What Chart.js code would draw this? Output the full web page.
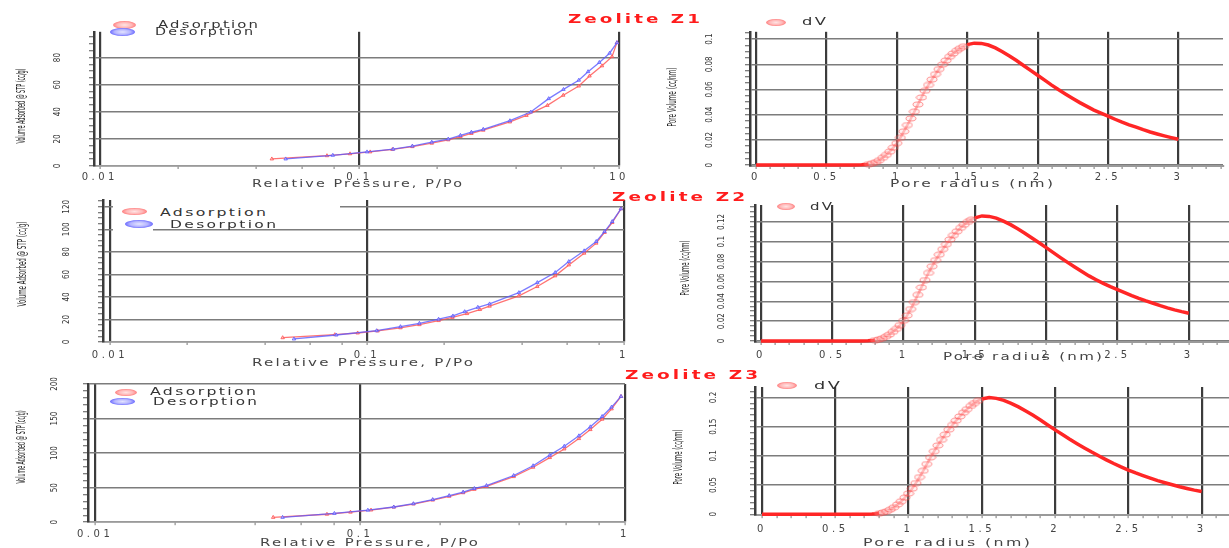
<!DOCTYPE html>
<html>
<head>
<meta charset="utf-8">
<script src="https://cdn.jsdelivr.net/npm/chart.js@4.4.1/dist/chart.umd.min.js"></script>
<style>
  body { margin: 0; width: 1229px; height: 548px; overflow: hidden; position: relative; background: #fff; font-family: 'DejaVu Sans', sans-serif; }
  canvas { position: absolute; left: 0; top: 0; }
  .txt { position: absolute; left: 0; top: 0; white-space: nowrap; line-height: 1; }
  .blank { position: absolute; background: #fff; }
</style>
</head>
<body>
<canvas id="iso1" width="1229" height="548"></canvas>
<canvas id="iso2" width="1229" height="548"></canvas>
<canvas id="iso3" width="1229" height="548"></canvas>
<canvas id="psd1" width="1229" height="548"></canvas>
<canvas id="psd2" width="1229" height="548"></canvas>
<canvas id="psd3" width="1229" height="548"></canvas>
<script>
// ---- isotherm data (relative pressure, volume adsorbed cc/g) ----
const z1AdsP = [0.046, 0.075, 0.092, 0.11, 0.134, 0.16, 0.19, 0.22, 0.245, 0.27, 0.30, 0.38, 0.44, 0.53, 0.61, 0.70, 0.77, 0.86, 0.94, 0.982];
const z1AdsV = [5.2, 7.6, 9.0, 10.4, 12.2, 14.3, 16.8, 19.3, 21.7, 24.0, 26.4, 32.5, 37.3, 44.7, 52.2, 59.0, 66.4, 73.9, 80.7, 91.0];
const z1DesP = [0.982, 0.92, 0.84, 0.76, 0.70, 0.611, 0.536, 0.457, 0.38, 0.30, 0.27, 0.245, 0.22, 0.19, 0.16, 0.135, 0.107, 0.079, 0.052];
const z1DesV = [91.0, 83.2, 76.4, 69.6, 63.3, 56.5, 49.7, 39.8, 33.4, 27.1, 24.9, 22.6, 19.9, 17.6, 14.7, 12.4, 10.4, 7.9, 5.2];

const z2AdsP = [0.047, 0.075, 0.092, 0.11, 0.135, 0.16, 0.19, 0.215, 0.245, 0.275, 0.30, 0.39, 0.46, 0.54, 0.61, 0.70, 0.78, 0.84, 0.90, 0.973];
const z2AdsV = [3.8, 6.5, 8.0, 9.8, 12.6, 15.4, 19.0, 21.8, 25.2, 28.8, 31.8, 40.9, 49.2, 58.7, 68.4, 78.8, 87.7, 97.2, 106.0, 118.2];
const z2DesP = [0.973, 0.90, 0.84, 0.78, 0.70, 0.61, 0.54, 0.46, 0.39, 0.30, 0.27, 0.24, 0.216, 0.19, 0.16, 0.135, 0.109, 0.076, 0.052];
const z2DesV = [118.2, 106.9, 98.0, 89.2, 80.9, 71.4, 61.6, 52.7, 43.8, 33.8, 30.8, 26.9, 23.1, 20.2, 16.6, 13.6, 10.0, 6.2, 2.7];

const z3AdsP = [0.047, 0.075, 0.092, 0.11, 0.134, 0.159, 0.188, 0.217, 0.245, 0.27, 0.30, 0.38, 0.45, 0.52, 0.59, 0.67, 0.74, 0.82, 0.89, 0.966];
const z3AdsV = [7.0, 11.5, 14.5, 17.6, 21.8, 26.3, 32.0, 37.5, 42.6, 47.5, 51.8, 66.0, 79.5, 93.5, 106.0, 121.0, 134.0, 149.0, 164.0, 182.0];
const z3DesP = [0.966, 0.89, 0.82, 0.74, 0.67, 0.59, 0.52, 0.45, 0.38, 0.30, 0.27, 0.245, 0.217, 0.188, 0.159, 0.134, 0.107, 0.08, 0.051];
const z3DesV = [182.0, 166.6, 153.0, 138.0, 125.0, 110.0, 97.0, 81.7, 67.6, 53.0, 48.8, 43.6, 38.5, 32.8, 26.8, 22.0, 17.4, 12.7, 7.0];

// log axis: tick marks and the labelled decades
const isoTicks = [0.01, 0.02, 0.04, 0.06, 0.08, 0.1, 0.2, 0.4, 0.6, 0.8, 1];
const isoDecades = [0.01, 0.1, 1];
const isoDecadeLabelsZ1 = ['0.01', '0.1', '10'];
const isoDecadeLabels = ['0.01', '0.1', '1'];

// ---- pore size distribution (pore radius nm, dV cc/nm) ----
const poreR = [0, 0.05, 0.1, 0.15, 0.2, 0.25, 0.3, 0.35, 0.4, 0.45, 0.5, 0.55, 0.6, 0.65, 0.7, 0.75,
  0.775, 0.8, 0.825, 0.85, 0.875, 0.9, 0.925, 0.95, 0.975, 1.0, 1.025, 1.05, 1.075, 1.1, 1.125,
  1.15, 1.175, 1.2, 1.225, 1.25, 1.275, 1.3, 1.325, 1.35, 1.375, 1.4, 1.425, 1.45, 1.475, 1.5,
  1.55, 1.6, 1.65, 1.7, 1.75, 1.8, 1.85, 1.9, 1.95, 2.0, 2.05, 2.1, 2.15, 2.2, 2.25,
  2.3, 2.35, 2.4, 2.45, 2.5, 2.55, 2.6, 2.65, 2.7, 2.75, 2.8, 2.85, 2.9, 2.95, 3.0];
const dvZ1 = [0, 0, 0, 0, 0, 0, 0, 0, 0, 0, 0, 0, 0, 0, 0, 0.0002,
  0.0004, 0.0008, 0.0015, 0.0024, 0.0039, 0.0058, 0.0081, 0.0107, 0.0139, 0.0175, 0.0217, 0.0268, 0.0318, 0.0370, 0.0425,
  0.0482, 0.0537, 0.0590, 0.0636, 0.0680, 0.0722, 0.0762, 0.0798, 0.0831, 0.0860, 0.0886, 0.0908, 0.0927, 0.0943, 0.0956,
  0.0968, 0.0966, 0.0953, 0.0930, 0.0900, 0.0866, 0.0830, 0.0791, 0.0752, 0.0713, 0.0674, 0.0635, 0.0598, 0.0563, 0.0529,
  0.0496, 0.0466, 0.0437, 0.0412, 0.0388, 0.0364, 0.0341, 0.0320, 0.0301, 0.0281, 0.0263, 0.0247, 0.0232, 0.0218, 0.0205];
const dvZ2 = [0, 0, 0, 0, 0, 0, 0, 0, 0, 0, 0, 0, 0, 0, 0, 0.0002,
  0.0004, 0.0009, 0.0016, 0.0027, 0.0043, 0.0065, 0.0092, 0.0122, 0.0160, 0.0205, 0.0258, 0.0322, 0.0392, 0.0465, 0.0540,
  0.0614, 0.0686, 0.0753, 0.0815, 0.0870, 0.0925, 0.0975, 0.1022, 0.1066, 0.1105, 0.1140, 0.1172, 0.1200, 0.1222, 0.1240,
  0.1260, 0.1255, 0.1238, 0.1208, 0.1172, 0.1130, 0.1086, 0.1038, 0.0990, 0.0940, 0.0890, 0.0840, 0.0792, 0.0745, 0.0700,
  0.0656, 0.0617, 0.0580, 0.0548, 0.0518, 0.0488, 0.0458, 0.0430, 0.0404, 0.0380, 0.0356, 0.0334, 0.0314, 0.0296, 0.0280];
const dvZ3 = [0, 0, 0, 0, 0, 0, 0, 0, 0, 0, 0, 0, 0, 0, 0, 0.0004,
  0.0008, 0.0016, 0.0030, 0.0050, 0.0080, 0.0120, 0.0168, 0.0222, 0.0285, 0.0355, 0.0440, 0.0535, 0.0637, 0.0745, 0.0860,
  0.0975, 0.1080, 0.1180, 0.1275, 0.1365, 0.1450, 0.1530, 0.1605, 0.1675, 0.1740, 0.1800, 0.1855, 0.1905, 0.1945, 0.1975,
  0.2000, 0.1985, 0.1950, 0.1900, 0.1840, 0.1770, 0.1695, 0.1615, 0.1530, 0.1445, 0.1365, 0.1285, 0.1210, 0.1137, 0.1065,
  0.0997, 0.0932, 0.0870, 0.0812, 0.0758, 0.0708, 0.0662, 0.0618, 0.0577, 0.0540, 0.0505, 0.0472, 0.0442, 0.0414, 0.0390];

const W = 1229, H = 548;
const Y_AXIS_W = 60, X_AXIS_H = 20;
const NARROW = "'Liberation Sans Narrow', 'DejaVu Sans Condensed', 'Liberation Sans', sans-serif";
const CLEAR = 'rgba(0,0,0,0)';

Chart.defaults.font.family = "'DejaVu Sans', sans-serif";
Chart.defaults.animation = false;

const isMult = (v, m) => Math.abs(v / m - Math.round(v / m)) < 1e-6;
const pts = (xs, ys) => xs.map((x, i) => ({ x, y: ys[i] }));

// x tick labels in the original are spaced out, so wrap the x scale's label drawing
const spacedTicks = {
  id: 'spacedTicks',
  beforeDraw(chart) {
    const sc = chart.scales.x;
    if (sc._spaced) return;
    const orig = sc.drawLabels;
    sc.drawLabels = function (area) {
      this.ctx.save();
      this.ctx.letterSpacing = '3.5px';
      orig.call(this, area);
      this.ctx.restore();
    };
    sc._spaced = true;
  }
};

// flat ring marker, the original's markers are stretched sideways
function ellipseMarker(w, h) {
  const cv = document.createElement('canvas');
  cv.width = w + 2; cv.height = h + 2;
  const g = cv.getContext('2d');
  g.beginPath();
  g.ellipse(cv.width / 2, cv.height / 2, w / 2, h / 2, 0, 0, Math.PI * 2);
  g.fillStyle = 'rgba(255,200,200,0.25)';
  g.fill();
  g.strokeStyle = 'rgba(255,60,60,0.55)';
  g.lineWidth = 1;
  g.stroke();
  return cv;
}
const ringMarker = ellipseMarker(10, 5);

function yScale(c) {
  return {
    min: c.yMin, max: c.yMax,
    afterFit: s => { s.width = Y_AXIS_W; },
    ticks: {
      stepSize: c.yStep, autoSkip: false, includeBounds: false,
      minRotation: 90, maxRotation: 90, crossAlign: 'center', padding: c.yPad,
      font: { size: 8, family: NARROW }, color: '#333',
      callback: v => isMult(v, c.yMajor) ? String(Math.round(v * 1000) / 1000) : ''
    },
    grid: {
      color: ctx => ctx.tick && isMult(ctx.tick.value, c.yMajor) ? '#7c7c7c' : CLEAR,
      lineWidth: 1.5, tickLength: 5, tickColor: '#555', tickWidth: 1
    },
    border: { color: '#3c3c3c', width: 2.5 }
  };
}

function baseOptions(c, xScale) {
  return {
    responsive: false, devicePixelRatio: 1, events: [],
    layout: {
      autoPadding: false,
      padding: { left: c.area.left - Y_AXIS_W, top: c.area.top, right: W - c.area.right, bottom: H - c.area.bottom - X_AXIS_H }
    },
    plugins: { legend: { display: false }, tooltip: { enabled: false } },
    scales: { x: xScale, y: yScale(c) }
  };
}

function makeIso(id, c) {
  const xScale = {
    type: 'logarithmic', min: c.xMin, max: 1,
    afterFit: s => { s.height = X_AXIS_H; },
    afterBuildTicks: s => { s.ticks = isoTicks.map(v => ({ value: v })); },
    ticks: {
      autoSkip: false, maxRotation: 0, padding: c.xPad, color: '#444', font: { size: 10 },
      callback: v => { const i = isoDecades.indexOf(v); return i < 0 ? '' : c.decadeLabels[i]; }
    },
    grid: {
      color: ctx => ctx.tick && isoDecades.includes(ctx.tick.value) ? '#3c3c3c' : CLEAR,
      lineWidth: 2.2, tickLength: 3, tickColor: '#777', tickWidth: 1
    },
    border: { color: '#9a9a9a', width: 1.5 }
  };
  return new Chart(document.getElementById(id), {
    type: 'line',
    data: {
      datasets: [
        {
          label: 'Adsorption', data: pts(c.adsP, c.adsV), order: 1,
          borderColor: 'rgba(255,80,80,0.8)', backgroundColor: 'rgba(255,190,190,0.6)',
          borderWidth: 1.3, pointStyle: 'triangle', pointRadius: 2, pointBorderWidth: 1
        },
        {
          label: 'Desorption', data: pts(c.desP, c.desV), order: 0,
          borderColor: 'rgba(90,90,255,0.8)', backgroundColor: 'rgba(190,190,255,0.6)',
          borderWidth: 1.3, pointStyle: 'triangle', pointRadius: 2, pointBorderWidth: 1
        }
      ]
    },
    options: baseOptions(c, xScale),
    plugins: [spacedTicks]
  });
}

// the rising flank of the distribution shows as loose pink rings, the rest as a solid band
const rising = x => x > 0.78 && x < 1.5;

function makePsd(id, c) {
  const xScale = {
    type: 'linear', min: c.xMin, max: c.xMax,
    afterFit: s => { s.height = X_AXIS_H; },
    ticks: {
      stepSize: 0.1, autoSkip: false, includeBounds: false, maxRotation: 0,
      padding: c.xPad, color: '#444', font: { size: 10 },
      callback: v => isMult(v, 0.5) ? String(v) : ''
    },
    grid: {
      color: ctx => ctx.tick && isMult(ctx.tick.value, 0.5) ? '#3c3c3c' : CLEAR,
      lineWidth: 2.2, tickLength: 3, tickColor: '#777', tickWidth: 1
    },
    border: { color: '#9a9a9a', width: 2 }
  };
  return new Chart(document.getElementById(id), {
    type: 'line',
    data: {
      datasets: [{
        label: 'dV', data: pts(poreR, c.dv), clip: 4,
        borderColor: '#ff2626', borderWidth: 3.5,
        segment: {
          borderColor: s => rising(s.p0.parsed.x) ? 'rgba(255,70,70,0.4)' : undefined,
          borderWidth: s => rising(s.p0.parsed.x) ? 2.5 : undefined
        },
        pointStyle: ringMarker,
        pointRadius: ctx => rising(ctx.raw.x) ? 5 : 0
      }]
    },
    options: baseOptions(c, xScale),
    plugins: [spacedTicks]
  });
}

// ---- html text helpers ----
function placeText(str, o) {
  const el = document.createElement('div');
  el.className = 'txt';
  el.textContent = str;
  const ls = o.ls || 0;
  Object.assign(el.style, {
    fontSize: o.size + 'px', fontWeight: o.bold ? 'bold' : 'normal', letterSpacing: ls + 'px',
    color: o.color || '#333', fontFamily: o.family || "'DejaVu Sans', sans-serif"
  });
  document.body.appendChild(el);
  const r = el.getBoundingClientRect();
  if (o.rotate) {
    el.style.left = (o.cx - r.width / 2) + 'px';
    el.style.top = (o.cy - r.height / 2) + 'px';
    el.style.transform = `rotate(-90deg) scaleX(${(o.len / r.width).toFixed(3)})`;
  } else {
    el.style.transformOrigin = '0 50%';
    el.style.transform = `scaleX(${(o.len / (r.width - ls)).toFixed(3)})`;
    el.style.left = o.x + 'px';
    el.style.top = (o.cy - r.height / 2) + 'px';
  }
  return el;
}

function placeMarker(cx, cy, w, h, fill) {
  const el = document.createElement('div');
  Object.assign(el.style, {
    position: 'absolute', left: (cx - w / 2) + 'px', top: (cy - h / 2) + 'px',
    width: w + 'px', height: h + 'px', borderRadius: '50%', background: fill
  });
  document.body.appendChild(el);
}

const pinkFill = 'radial-gradient(ellipse at center, #ffe4e4 0%, #ffb8b8 45%, #ff6a6a 80%, rgba(255,100,100,0.3) 100%)';
const legendFill = {
  Adsorption: pinkFill,
  Desorption: 'radial-gradient(ellipse at center, #e4e4ff 0%, #b4b4ff 45%, #5252ff 80%, rgba(80,80,255,0.3) 100%)',
  dV: pinkFill
};

function addLegend(chart, rows) {
  chart.data.datasets.forEach((ds, i) => {
    const r = rows[i];
    placeMarker(r.mx, r.my, r.mw, r.mh, legendFill[ds.label]);
    placeText(ds.label, { x: r.tx, cy: r.ty, len: r.tw, size: 10, ls: 1.5, color: '#333' });
  });
}

function blank(x, y, w, h) {
  const el = document.createElement('div');
  el.className = 'blank';
  Object.assign(el.style, { left: x + 'px', top: y + 'px', width: w + 'px', height: h + 'px' });
  document.body.appendChild(el);
}

// ---- build the six panels ----
const iso1 = makeIso('iso1', {
  adsP: z1AdsP, adsV: z1AdsV, desP: z1DesP, desV: z1DesV, decadeLabels: isoDecadeLabelsZ1,
  area: { left: 94, right: 619, top: 20, bottom: 166 }, xMin: 0.0095,
  yMin: 0, yMax: 99, yStep: 5, yMajor: 20, yPad: 27, xPad: 2
});
const iso2 = makeIso('iso2', {
  adsP: z2AdsP, adsV: z2AdsV, desP: z2DesP, desV: z2DesV, decadeLabels: isoDecadeLabels,
  area: { left: 103, right: 624, top: 200, bottom: 342 }, xMin: 0.0094,
  yMin: 0, yMax: 126, yStep: 5, yMajor: 20, yPad: 24, xPad: 4
});
const iso3 = makeIso('iso3', {
  adsP: z3AdsP, adsV: z3AdsV, desP: z3DesP, desV: z3DesV, decadeLabels: isoDecadeLabels,
  area: { left: 88, right: 625, top: 384, bottom: 525 }, xMin: 0.0094,
  yMin: 0, yMax: 200, yStep: 10, yMajor: 50, yPad: 21, xPad: 3
});
const psd1 = makePsd('psd1', {
  dv: dvZ1, area: { left: 750, right: 1223, top: 20, bottom: 166 }, xMin: -0.043, xMax: 3.317,
  yMin: -0.0007, yMax: 0.1058, yStep: 0.005, yMajor: 0.02, yPad: 27, xPad: 2
});
const psd2 = makePsd('psd2', {
  dv: dvZ2, area: { left: 755, right: 1229, top: 205, bottom: 342 }, xMin: -0.042, xMax: 3.282,
  yMin: -0.001, yMax: 0.137, yStep: 0.005, yMajor: 0.02, yPad: 20, xPad: 4
});
const psd3 = makePsd('psd3', {
  dv: dvZ3, area: { left: 755, right: 1229, top: 387, bottom: 522 }, xMin: -0.048, xMax: 3.187,
  yMin: -0.0016, yMax: 0.218, yStep: 0.01, yMajor: 0.05, yPad: 28, xPad: 5
});

// Z2 legend sits on a white box that hides part of the grid
blank(113, 202, 227, 24);
blank(113, 226, 40, 8);

addLegend(iso1, [
  { mx: 124, my: 25, mw: 23, mh: 8, tx: 158, ty: 25, tw: 100 },
  { mx: 122, my: 32, mw: 25, mh: 8, tx: 155, ty: 32, tw: 98 }
]);
addLegend(iso2, [
  { mx: 134, my: 211, mw: 25, mh: 7, tx: 160, ty: 213, tw: 106 },
  { mx: 139, my: 224, mw: 28, mh: 8, tx: 170, ty: 225, tw: 106 }
]);
addLegend(iso3, [
  { mx: 126, my: 392, mw: 22, mh: 7, tx: 150, ty: 392, tw: 106 },
  { mx: 122, my: 401, mw: 25, mh: 7, tx: 153, ty: 402, tw: 104 }
]);
addLegend(psd1, [{ mx: 776, my: 22, mw: 20, mh: 7, tx: 802, ty: 22, tw: 24 }]);
addLegend(psd2, [{ mx: 786, my: 206, mw: 18, mh: 7, tx: 810, ty: 207, tw: 22 }]);
addLegend(psd3, [{ mx: 787, my: 385, mw: 20, mh: 7, tx: 814, ty: 386, tw: 26 }]);

// panel titles
placeText('Zeolite Z1', { x: 568, cy: 19, len: 132, size: 12, ls: 2, bold: true, color: '#ff1c1c' });
placeText('Zeolite Z2', { x: 612, cy: 197, len: 133, size: 12, ls: 2, bold: true, color: '#ff1c1c' });
placeText('Zeolite Z3', { x: 625, cy: 375, len: 133, size: 12, ls: 2, bold: true, color: '#ff1c1c' });

// x axis titles
placeText('Relative Pressure, P/Po', { x: 252, cy: 184, len: 210, size: 10, ls: 1.5, color: '#444' });
placeText('Relative Pressure, P/Po', { x: 252, cy: 363, len: 221, size: 10, ls: 1.5, color: '#444' });
placeText('Relative Pressure, P/Po', { x: 260, cy: 543, len: 218, size: 10, ls: 1.5, color: '#444' });
placeText('Pore radius (nm)', { x: 890, cy: 184, len: 163, size: 10, ls: 1.5, color: '#444' });
placeText('Pore radius (nm)', { x: 943, cy: 357, len: 159, size: 10, ls: 1.5, color: '#444' });
placeText('Pore radius (nm)', { x: 863, cy: 543, len: 167, size: 10, ls: 1.5, color: '#444' });

// y axis titles (squeezed, like the original)
placeText('Volume Adsorbed @ STP (cc/g)', { rotate: true, cx: 21, cy: 106, len: 75, size: 12, family: NARROW, color: '#222' });
placeText('Volume Adsorbed @ STP (cc/g)', { rotate: true, cx: 22, cy: 264, len: 85, size: 12, family: NARROW, color: '#222' });
placeText('Volume Adsorbed @ STP (cc/g)', { rotate: true, cx: 21, cy: 447, len: 73, size: 12, family: NARROW, color: '#222' });
placeText('Pore Volume (cc/nm)', { rotate: true, cx: 672, cy: 97, len: 59, size: 12, family: NARROW, color: '#222' });
placeText('Pore Volume (cc/nm)', { rotate: true, cx: 685, cy: 268, len: 55, size: 12, family: NARROW, color: '#222' });
placeText('Pore Volume (cc/nm)', { rotate: true, cx: 678, cy: 457, len: 55, size: 12, family: NARROW, color: '#222' });
</script>
</body>
</html>
